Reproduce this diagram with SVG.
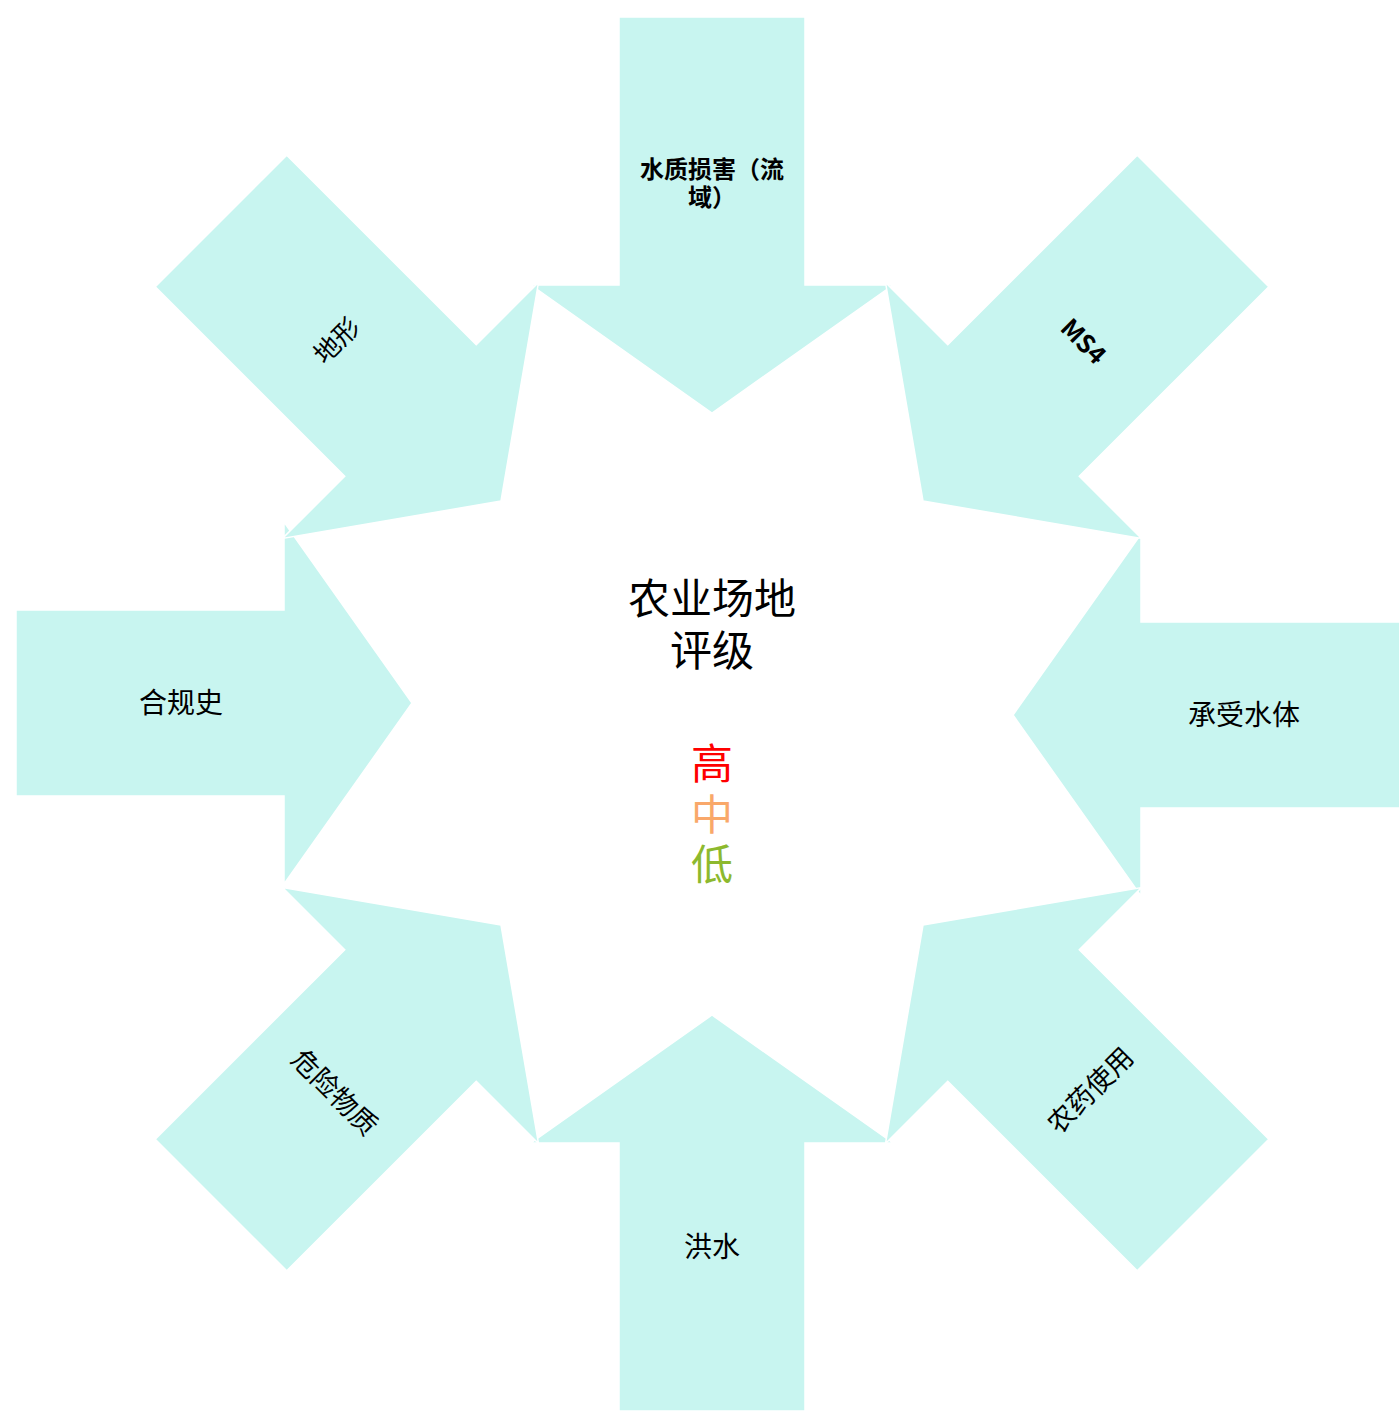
<svg xmlns="http://www.w3.org/2000/svg" width="1399" height="1412" viewBox="0 0 1399 1412">
<style>
.arr{fill:#C8F5F0;stroke:#FFFFFF;stroke-width:1.5;stroke-linejoin:miter}
.lbl{font-family:"Noto Sans CJK SC","Noto Sans",sans-serif;fill:#000;text-anchor:middle;dominant-baseline:central}
.ttl{font-family:"Noto Sans CJK SC","Noto Sans",sans-serif;text-anchor:middle;dominant-baseline:central;font-size:42px}
</style>
<defs>
<polygon id="arrow" class="arr" points="-93,-396 93,-396 93,-128 181,-128 0,0 -181,-128 -93,-128"/>
</defs>
<rect width="1399" height="1412" fill="#FFFFFF"/>
<g id="connectors"></g>
<g id="node-top"><use href="#arrow" transform="translate(712,413)"/>
<text class="lbl" font-size="24" font-weight="700" x="712" y="167">水质损害（流</text>
<text class="lbl" font-size="24" font-weight="700" x="712" y="195">域）</text></g>
<g id="node-bottom"><use href="#arrow" transform="translate(712,1015) rotate(180)"/>
<text class="lbl" font-size="28" x="712" y="1245">洪水</text></g>
<g id="node-left"><use href="#arrow" transform="translate(412,703) rotate(-90)"/>
<text class="lbl" font-size="28" x="181" y="701">合规史</text></g>
<g id="node-right"><use href="#arrow" transform="translate(1013,715) rotate(90)"/>
<text class="lbl" font-size="28" x="1244" y="713">承受水体</text></g>
<g id="node-tl"><use href="#arrow" transform="translate(501,501) rotate(-45)"/>
<text class="lbl" font-size="26" transform="translate(335,339) rotate(-45)">地形</text></g>
<g id="node-tr"><use href="#arrow" transform="translate(923,501) rotate(45)"/>
<text class="lbl" font-size="25" font-weight="700" transform="translate(1085,340) rotate(45)">MS4</text></g>
<g id="node-bl"><use href="#arrow" transform="translate(501,925) rotate(-135)"/>
<text class="lbl" font-size="27" transform="translate(336,1091) rotate(45)">危险物质</text></g>
<g id="node-br"><use href="#arrow" transform="translate(923,925) rotate(135)"/>
<text class="lbl" font-size="27" transform="translate(1089,1089) rotate(-45)">农药使用</text></g>
<g id="node-center">
<text class="ttl" x="712" y="595" fill="#000">农业场地</text>
<text class="ttl" x="712" y="647" fill="#000">评级</text>
<text class="ttl" x="712" y="760" fill="#FF0000">高</text>
<text class="ttl" x="712" y="811" fill="#F9A86A">中</text>
<text class="ttl" x="712" y="861" fill="#8DB92E">低</text>
</g>
</svg>
